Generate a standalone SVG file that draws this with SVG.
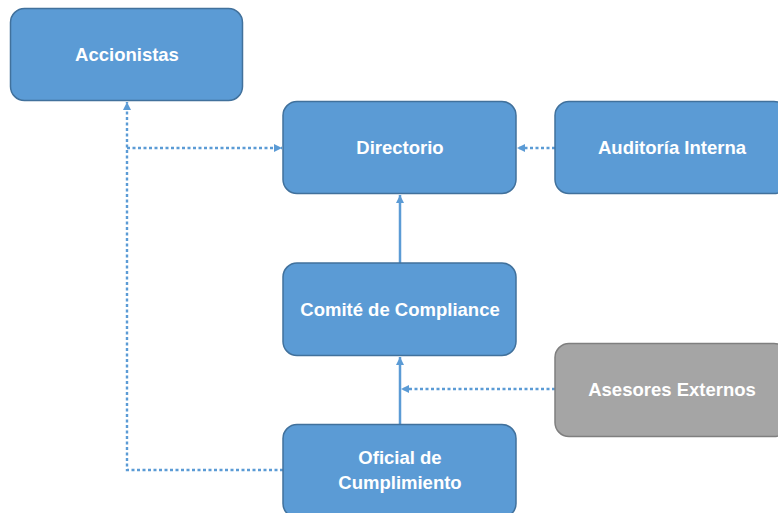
<svg xmlns="http://www.w3.org/2000/svg" width="778" height="513" viewBox="0 0 778 513">
<style>
.box{fill:#5b9bd5;stroke:#41719c;stroke-width:1.5}
.gray{fill:#a5a5a5;stroke:#7f7f7f;stroke-width:1.5}
.lbl{font-family:"Liberation Sans",Arial,sans-serif;font-weight:bold;font-size:18.5px;fill:#ffffff;text-anchor:middle}
.dot{fill:none;stroke:#5b9bd5;stroke-width:2.4;stroke-dasharray:3 2.5}
.solid{fill:none;stroke:#5b9bd5;stroke-width:2.5}
</style>
<defs>
<marker id="ah" viewBox="0 0 10 10" refX="10" refY="5" markerWidth="9" markerHeight="8" markerUnits="userSpaceOnUse" orient="auto">
<path d="M0,0 L10,5 L0,10 z" fill="#5b9bd5"/>
</marker>
</defs>
<rect width="778" height="513" fill="#ffffff"/>
<g id="connectors">
<path class="dot" d="M283,470 H127 V102" marker-end="url(#ah)"/>
<path class="dot" d="M127,148 H282" marker-end="url(#ah)"/>
<path class="dot" d="M555,148 H517" marker-end="url(#ah)"/>
<path class="dot" d="M555,389 H401" marker-end="url(#ah)"/>
<path class="solid" d="M400,263 V195" marker-end="url(#ah)"/>
<path class="solid" d="M400,424 V357" marker-end="url(#ah)"/>
</g>
<g id="accionistas">
<rect class="box" x="10.5" y="8.5" width="232" height="92" rx="14"/>
<text class="lbl" x="127" y="61">Accionistas</text>
</g>
<g id="directorio">
<rect class="box" x="283" y="101.5" width="233" height="92" rx="14"/>
<text class="lbl" x="400" y="154">Directorio</text>
</g>
<g id="auditoria">
<rect class="box" x="555" y="101.5" width="233" height="92" rx="14"/>
<text class="lbl" x="672" y="154">Auditoría Interna</text>
</g>
<g id="comite">
<rect class="box" x="283" y="263" width="233" height="92.5" rx="14"/>
<text class="lbl" x="400" y="316">Comité de Compliance</text>
</g>
<g id="asesores">
<rect class="gray" x="555" y="343.5" width="233" height="93" rx="14"/>
<text class="lbl" x="672" y="396">Asesores Externos</text>
</g>
<g id="oficial">
<rect class="box" x="283" y="424.5" width="233" height="93" rx="14"/>
<text class="lbl" x="400" y="464">Oficial de</text>
<text class="lbl" x="400" y="489">Cumplimiento</text>
</g>
</svg>
